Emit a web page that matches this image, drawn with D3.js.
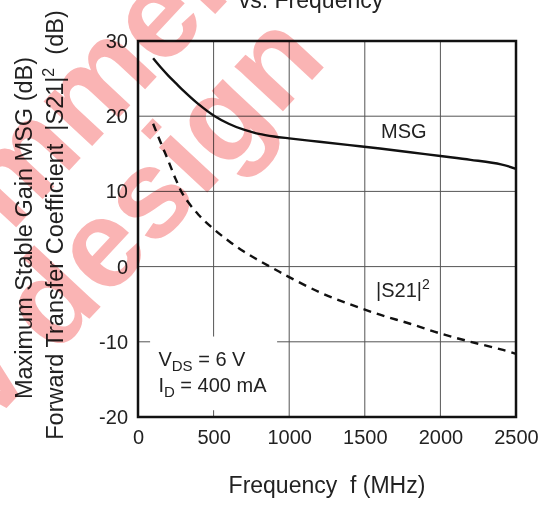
<!DOCTYPE html>
<html>
<head>
<meta charset="utf-8">
<script src="https://cdn.jsdelivr.net/npm/d3@7"></script>
<style>
  body { margin: 0; background: #fff; }
  svg { display: block; font-family: "Liberation Sans", Arial, sans-serif; }
  text { white-space: pre; }
</style>
</head>
<body>
<div class="chart"></div>
<script>
// Data
const freqs = [100, 150, 200, 250, 300, 400, 500, 600, 700, 800, 900, 1000, 1200, 1400, 1600, 1800, 2000, 2200, 2400, 2500];
const msgValues = [27.7, 26.5, 25.4, 24.4, 23.4, 21.6, 20.1, 19.0, 18.2, 17.65, 17.3, 17.05, 16.6, 16.15, 15.7, 15.2, 14.7, 14.2, 13.6, 13.0];
const s21Values = [19.0, 16.5, 14.1, 11.6, 9.5, 6.9, 5.0, 3.4, 2.0, 0.8, -0.3, -1.4, -3.4, -5.0, -6.4, -7.6, -8.9, -10.0, -11.0, -11.6];
const xTicks = [0, 500, 1000, 1500, 2000, 2500];
const yTicks = [-20, -10, 0, 10, 20, 30];

const W = 549, H = 506;
const margin = { top: 41, right: 33, bottom: 89, left: 138 };
const width = W - margin.left - margin.right;
const height = H - margin.top - margin.bottom;

const root = d3.select(".chart").append("svg")
    .attr("width", W)
    .attr("height", H);

const svg = root.append("g")
    .attr("transform", `translate(${margin.left},${margin.top})`);

const x = d3.scaleLinear().domain([0, 2500]).range([0, width]);
const y = d3.scaleLinear().domain([-20, 30]).range([height, 0]);

// Grid
svg.append("g")
    .attr("class", "grid")
    .selectAll("line.v")
    .data(xTicks.slice(1, -1))
    .enter().append("line")
    .attr("x1", d => x(d)).attr("x2", d => x(d))
    .attr("y1", 0).attr("y2", height)
    .attr("stroke", "#555").attr("stroke-width", 1);

svg.select(".grid")
    .selectAll("line.h")
    .data(yTicks.slice(1, -1))
    .enter().append("line")
    .attr("x1", 0).attr("x2", width)
    .attr("y1", d => y(d)).attr("y2", d => y(d))
    .attr("stroke", "#555").attr("stroke-width", 1);

// Condition box covers the grid
svg.append("rect")
    .attr("x", x(80)).attr("y", y(-9.3))
    .attr("width", x(920) - x(80)).attr("height", y(-19.1) - y(-9.3))
    .attr("fill", "#fff");

svg.append("text").attr("x", x(135)).attr("y", y(-13.2))
    .attr("font-size", 20).attr("fill", "#222")
    .call(t => {
        t.append("tspan").text("V");
        t.append("tspan").attr("font-size", 15).attr("dy", 5).text("DS");
        t.append("tspan").attr("dy", -5).text(" = 6 V");
    });

svg.append("text").attr("x", x(135)).attr("y", y(-16.7))
    .attr("font-size", 20).attr("fill", "#222")
    .call(t => {
        t.append("tspan").text("I");
        t.append("tspan").attr("font-size", 15).attr("dy", 5).text("D");
        t.append("tspan").attr("dy", -5).text(" = 400 mA");
    });

// Axes (labels only, the frame is drawn separately)
const xAxis = svg.append("g")
    .attr("transform", `translate(0,${height})`)
    .call(d3.axisBottom(x).tickValues(xTicks).tickSize(0).tickPadding(27).tickFormat(d => String(d)));
const yAxis = svg.append("g")
    .call(d3.axisLeft(y).tickValues(yTicks).tickSize(0).tickPadding(10).tickFormat(d => String(d)));
[xAxis, yAxis].forEach(a => {
    a.select(".domain").remove();
    a.selectAll("text")
        .attr("font-size", 20)
        .attr("font-family", "Liberation Sans, Arial, sans-serif")
        .attr("fill", "#222");
});
xAxis.selectAll("text").attr("dy", 0);

// Curves
const line = d3.line()
    .x(d => x(d[0]))
    .y(d => y(d[1]))
    .curve(d3.curveCatmullRom.alpha(0.5));

svg.append("path")
    .datum(freqs.map((f, i) => [f, msgValues[i]]))
    .attr("d", line)
    .attr("fill", "none")
    .attr("stroke", "#111")
    .attr("stroke-width", 2.4);

svg.append("path")
    .datum(freqs.map((f, i) => [f, s21Values[i]]))
    .attr("d", line)
    .attr("fill", "none")
    .attr("stroke", "#111")
    .attr("stroke-width", 2.4)
    .attr("stroke-dasharray", "8,6");

// Frame
svg.append("rect")
    .attr("width", width).attr("height", height)
    .attr("fill", "none").attr("stroke", "#111").attr("stroke-width", 2.5);

// Curve labels
svg.append("text").attr("x", x(1607)).attr("y", y(17.1))
    .attr("font-size", 20).attr("fill", "#222").text("MSG");

svg.append("text").attr("x", x(1574)).attr("y", y(-4.0))
    .attr("font-size", 20).attr("fill", "#222")
    .call(t => {
        t.append("tspan").text("|S21|");
        t.append("tspan").attr("font-size", 14).attr("dy", -8).text("2");
    });

// Titles
root.append("text").attr("x", 311).attr("y", 8)
    .attr("text-anchor", "middle").attr("font-size", 23).attr("fill", "#222")
    .text("vs. Frequency");

root.append("text").attr("x", 327).attr("y", 493)
    .attr("text-anchor", "middle").attr("font-size", 23).attr("fill", "#222")
    .text("Frequency  f (MHz)");

root.append("text")
    .attr("transform", "translate(32,228) rotate(-90)")
    .attr("text-anchor", "middle").attr("font-size", 23.5).attr("fill", "#222")
    .text("Maximum Stable Gain MSG (dB)");

root.append("text")
    .attr("transform", "translate(63,225) rotate(-90)")
    .attr("text-anchor", "middle").attr("font-size", 23.5).attr("fill", "#222")
    .call(t => {
        t.append("tspan").text("Forward Transfer Coefficient  |S21|");
        t.append("tspan").attr("font-size", 16).attr("dy", -9).text("2");
        t.append("tspan").attr("dy", 9).text("  (dB)");
    });

// Watermark
const wm = root.append("g")
    .style("mix-blend-mode", "multiply")
    .attr("fill", "#fab4b4")
    .attr("font-weight", "bold")
    .attr("font-size", 125);
wm.append("text")
    .attr("text-anchor", "end")
    .attr("transform", "translate(413,-198) rotate(-47)")
    .text("Not recommended");
wm.append("text")
    .attr("text-anchor", "end")
    .attr("transform", "translate(329,62) rotate(-47)")
    .text("for new design");
</script>
</body>
</html>
